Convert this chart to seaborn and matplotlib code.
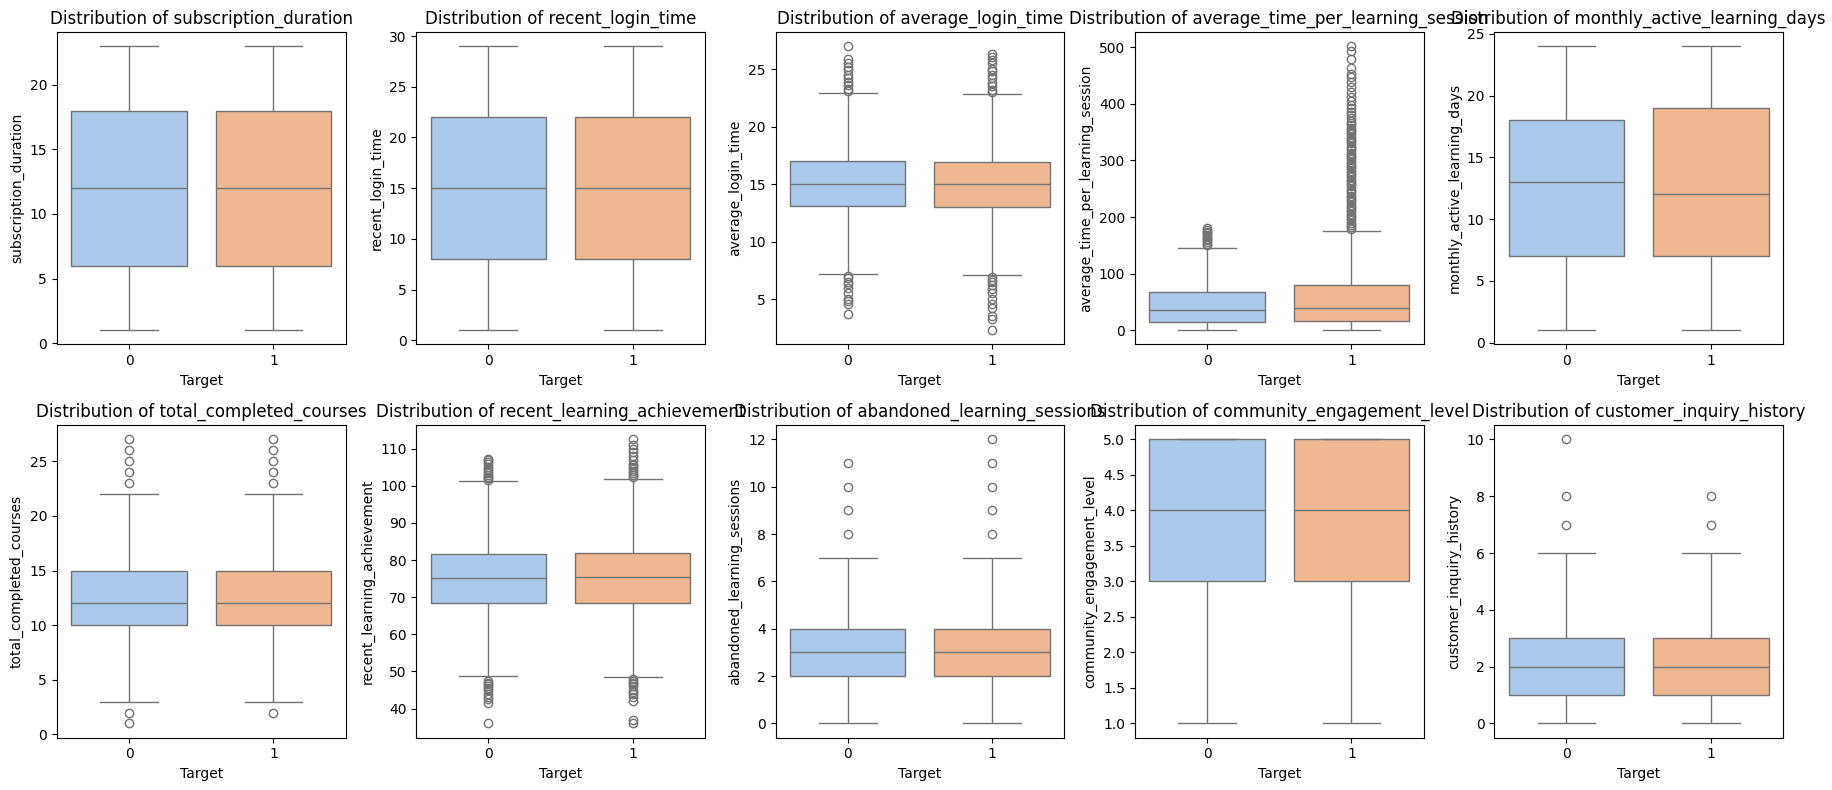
import pandas as pd
import matplotlib
matplotlib.use("Agg")
import matplotlib.pyplot as plt
import seaborn as sns

# box summaries, per feature: Target 0 / Target 1
features = ["subscription_duration", "recent_login_time", "average_login_time",
            "average_time_per_learning_session", "monthly_active_learning_days",
            "total_completed_courses", "recent_learning_achievement",
            "abandoned_learning_sessions", "community_engagement_level",
            "customer_inquiry_history"]

whislo_0 = [1, 1, 7.2, 0, 1, 3, 48.9, 0, 1, 0]
q1_0 = [6, 8, 13.1, 14, 7, 10, 68.5, 2, 3, 1]
med_0 = [12, 15, 15.0, 35.5, 13, 12, 75.1, 3, 4, 2]
q3_0 = [18, 22, 17.05, 67, 18, 15, 81.6, 4, 5, 3]
whishi_0 = [23, 29, 22.95, 146, 24, 22, 101.2, 7, 5, 6]

whislo_1 = [1, 1, 7.1, 0, 1, 3, 48.5, 0, 1, 0]
q1_1 = [6, 8, 13.0, 16, 7, 10, 68.5, 2, 3, 1]
med_1 = [12, 15, 15.0, 39, 12, 12, 75.4, 3, 4, 2]
q3_1 = [18, 22, 16.95, 80, 19, 15, 81.9, 4, 5, 3]
whishi_1 = [23, 29, 22.85, 175.5, 24, 22, 101.9, 7, 5, 6]

outliers_0 = [
    [],
    [],
    [27.0, 25.9, 25.5, 25.2, 24.9, 24.5, 24.2, 23.9, 23.6, 23.3, 23.1,
     7.0, 6.8, 6.5, 6.3, 6.0, 5.5, 5.0, 4.8, 4.6, 3.7],
    [150, 153, 156, 159, 162, 165, 168, 171, 174, 177, 180],
    [],
    [23, 24, 25, 26, 27, 2, 1],
    [101.6, 102, 102.5, 103, 103.5, 104, 104.5, 105, 106, 106.5, 107, 107.3,
     47.5, 47, 46.5, 46, 45.5, 45, 44, 43, 42.5, 41.5, 36],
    [8, 9, 10, 11],
    [],
    [7, 8, 10],
]
outliers_1 = [
    [],
    [],
    [26.3, 26.1, 25.8, 25.5, 25.0, 24.8, 24.5, 24.2, 23.8, 23.5, 23.2, 23.0,
     6.9, 6.7, 6.5, 6.2, 5.9, 5.5, 5.0, 4.6, 4.2, 3.5, 3.3, 2.3],
    [502, 493, 480, 464, 452, 447, 438, 430, 421, 412, 405, 398, 392, 385,
     380, 375, 370, 366, 362, 358, 354, 350, 346, 342, 338, 334, 330, 326,
     322, 318, 314, 310, 306, 302, 298, 294, 290, 286, 282, 278, 274, 270,
     266, 262, 258, 254, 250, 246, 242, 238, 234, 230, 226, 222, 218, 214,
     210, 206, 202, 198, 194, 190, 186, 182, 178],
    [],
    [23, 24, 25, 26, 27, 2],
    [102.5, 103, 103.5, 104, 104.5, 105, 105.5, 106, 107, 108, 109, 110, 111,
     112.5, 48, 47.5, 47, 46.5, 46, 45, 44.5, 44, 43, 42, 37, 36],
    [8, 9, 10, 11, 12],
    [],
    [7, 8],
]

stats = {0: (whislo_0, q1_0, med_0, q3_0, whishi_0, outliers_0),
         1: (whislo_1, q1_1, med_1, q3_1, whishi_1, outliers_1)}


def rows_for(i, target):
    # sample whose quartiles / whiskers reproduce the read summary
    lo, q1, med, q3, hi, out = stats[target]
    vals = [lo[i]] + [q1[i]] * 200 + [med[i]] * 200 + [q3[i]] * 200 + [hi[i]] + out[i]
    return pd.DataFrame({"Target": target, features[i]: vals})


fig, axes = plt.subplots(2, 5, figsize=(18.33, 7.9), dpi=100)

for i, col in enumerate(features):
    ax = axes.flat[i]
    df = pd.concat([rows_for(i, 0), rows_for(i, 1)], ignore_index=True)
    sns.boxplot(data=df, x="Target", y=col, hue="Target", palette="pastel",
                legend=False, ax=ax)
    ax.set_title(f"Distribution of {col}")
    ax.set_xlabel("Target")
    ax.set_ylabel(col)

plt.subplots_adjust(left=0.031, right=0.9727, top=0.9595, bottom=0.0663,
                    wspace=0.2445, hspace=0.259)
plt.savefig("out.png", dpi=100)
plt.close()
